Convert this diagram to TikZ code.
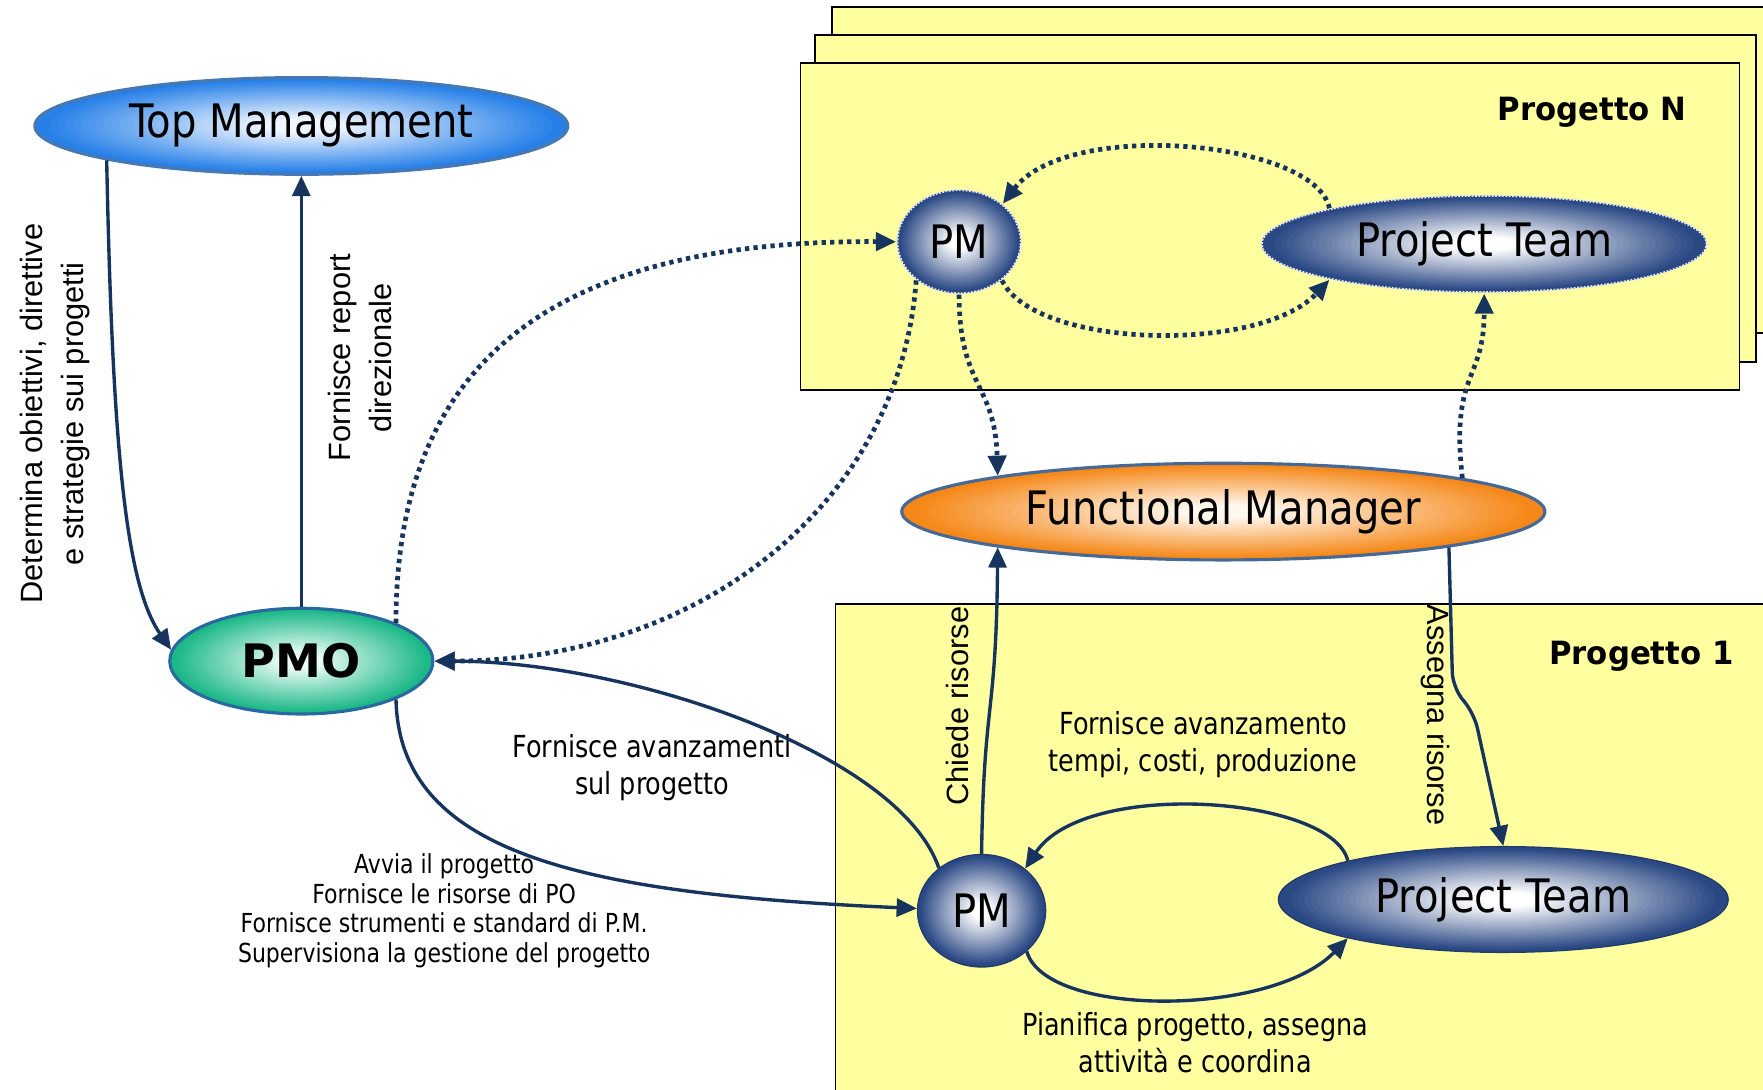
\documentclass[tikz,border=0pt]{standalone}
\usepackage{fontspec}
\usetikzlibrary{shapes.geometric,arrows.meta}
\setmainfont{DejaVu Sans}
\newfontfamily\nodeface[FakeStretch=0.87]{DejaVu Sans}
\newfontfamily\labelface[FakeStretch=0.84]{DejaVu Sans}
\newfontfamily\boldface{DejaVu Sans}
\newfontfamily\headface[FakeStretch=0.96]{DejaVu Sans}
\newfontfamily\sideface{Liberation Sans}

\definecolor{navy}{RGB}{22,52,94}
\definecolor{paper}{RGB}{255,255,160}
\definecolor{tmin}{RGB}{240,246,255}
\definecolor{tmout}{RGB}{38,128,232}
\definecolor{tmedge}{RGB}{70,120,180}
\definecolor{pmoin}{RGB}{235,252,246}
\definecolor{pmoout}{RGB}{28,184,136}
\definecolor{pmoedge}{RGB}{40,105,160}
\definecolor{fmin}{RGB}{255,246,236}
\definecolor{fmout}{RGB}{245,136,24}
\definecolor{fmedge}{RGB}{70,105,150}
\definecolor{pmin}{RGB}{255,255,255}
\definecolor{pmout}{RGB}{42,72,132}

% elliptical glow: stacked ellipses from rim colour (#2) to centre colour (#1),
% #3 and #4 are the x and y radii
\tikzset{
  glow/.style n args={4}{path picture={
    \foreach \gk in {0,...,34}{
      \pgfmathsetmacro\gr{1-\gk/35}
      \pgfmathsetmacro\gp{max(0,min(100,(0.97-\gr)/0.82*100))}
      \fill[#1!\gp!#2] (path picture bounding box.center)
        ellipse [x radius=\gr*#3, y radius=\gr*#4];
    }}}
}

\tikzset{
  projbox/.style={draw=black, line width=1.6pt, fill=paper},
  blob/.style={ellipse, inner sep=0pt, font=\nodeface\fontsize{41}{44}\selectfont},
  topbox/.style={blob, glow={tmin}{tmout}{237}{43}, draw=tmedge, line width=2.8pt},
  pmobox/.style={blob, glow={pmoin}{pmoout}{117}{47}, draw=pmoedge, line width=2.8pt,
                 font=\boldface\bfseries\fontsize{41}{44}\selectfont},
  fmbox/.style={blob, glow={fmin}{fmout}{286}{43}, draw=fmedge, line width=2.8pt},
  teambox/.style={blob, draw=pmout!80!black, line width=1.2pt},
  teamboxdot/.style={blob, draw=white!85!pmout, line width=2pt,
                     dash pattern=on 1.6pt off 1.4pt},
  flow/.style={draw=navy, line width=3pt, -{Triangle[length=18pt,width=16pt]}},
  dots/.style={draw=navy, line width=4.2pt, dash pattern=on 3.8pt off 3.8pt,
               -{Triangle[length=18pt,width=16pt]}},
  sidelbl/.style={font=\sideface\fontsize{27.4}{37}\selectfont, align=center, inner sep=0pt},
  midlbl/.style={font=\labelface\fontsize{27}{33}\selectfont, align=center, inner sep=0pt},
  smalllbl/.style={font=\labelface\fontsize{23.3}{26.6}\selectfont, align=center, inner sep=0pt},
  headlbl/.style={font=\headface\bfseries\fontsize{28.5}{30}\selectfont, inner sep=0pt, anchor=east}
}

\begin{document}
\begin{tikzpicture}[x=1pt, y=-1pt]
  \useasboundingbox (0,0) rectangle (1568,969);
  \fill[white] (0,0) rectangle (1568,969);

  % stacked project sheets (Progetto N) and Progetto 1
  \draw[projbox] (740,6) rectangle (1590,296);
  \draw[projbox] (725,31) rectangle (1562,322);
  \draw[projbox] (712,56) rectangle (1547,347);
  \draw[projbox] (743,537) rectangle (1590,990);

  \node[headlbl] (hdN) at (1500,100) {Progetto N};
  \node[headlbl] (hd1) at (1542,584) {Progetto 1};

  % actors
  \node[topbox, minimum width=474pt, minimum height=86pt] (tm) at (268,112) {Top Management};
  \node[pmobox, minimum width=234pt, minimum height=94pt] (pmo) at (268,588) {PMO};
  \node[teamboxdot, glow={pmin}{pmout}{55}{46}, minimum width=110pt, minimum height=92pt] (pmN) at (853,215) {PM};
  \node[teamboxdot, glow={pmin}{pmout}{198}{43}, minimum width=396pt, minimum height=86pt] (ptN) at (1320,217) {Project Team};
  \node[fmbox, minimum width=572pt, minimum height=86pt] (fm) at (1088,455) {Functional Manager};
  \node[teambox, glow={pmin}{pmout}{57}{50}, minimum width=114pt, minimum height=100pt] (pm1) at (873,810) {PM};
  \node[teambox, glow={pmin}{pmout}{200}{47}, minimum width=400pt, minimum height=94pt] (pt1) at (1337,800) {Project Team};

  % Top Management <-> PMO
  \draw[flow] (tm.190) .. controls (100,400) and (112,520) .. (pmo.175);
  \draw[flow] (pmo.north) -- (tm.south);
  \node[sidelbl, rotate=90] (lblDet) at (49,368) {Determina obiettivi, direttive\\e strategie sui progetti};
  \node[sidelbl, rotate=90] (lblRep) at (320,318) {Fornisce report\\direzionale};

  % PMO <-> PM of Progetto N (dotted)
  \draw[dots] (pmo.22) .. controls (352,340) and (470,213) .. (pmN.west);
  \draw[dots] (pmN.222) .. controls (800,450) and (620,588) .. (pmo.east);

  % Progetto N internal loop
  \draw[dots] (ptN.167) .. controls (1170,125) and (950,105) .. (pmN.41);
  \draw[dots] (pmN.318) .. controls (920,310) and (1120,315) .. (ptN.193);

  % Progetto N <-> Functional Manager
  \draw[dots] (pmN.south) .. controls (853,345) and (885,340) .. (fm.171.5);
  \draw[dots] (fm.8.5) .. controls (1290,330) and (1320,340) .. (ptN.south);

  % PMO <-> PM of Progetto 1
  \draw[flow] (pmo.338) .. controls (355,760) and (520,795) .. (pm1.178);
  \draw[flow] (pm1.135) .. controls (800,670) and (560,588) .. (pmo.east);
  \node[midlbl] (lblAv) at (580,683) {Fornisce avanzamenti\\sul progetto};
  \node[smalllbl] (lblAvvia) at (395,810) {Avvia il progetto\\Fornisce le risorse di PO\\Fornisce strumenti e standard di P.M.\\Supervisiona la gestione del progetto};

  % Progetto 1 <-> Functional Manager
  \draw[flow] (pm1.north) .. controls (875,620) and (886,640) .. (fm.189);
  \draw[flow, rounded corners=14pt] (fm.351.5) -- (1292,612) -- (1311,634) -- (pt1.north);
  \node[sidelbl, rotate=90] (lblChiede) at (852,628) {Chiede risorse};
  \node[sidelbl, rotate=-90] (lblAssegna) at (1277,636) {Assegna risorse};

  % Progetto 1 internal loop
  \draw[flow] (pt1.166) .. controls (1185,708) and (965,692) .. (pm1.44);
  \draw[flow] (pm1.318) .. controls (930,905) and (1130,905) .. (pt1.194);
  \node[midlbl] (lblTempi) at (1070,662) {Fornisce avanzamento\\tempi, costi, produzione};
  \node[midlbl] (lblPian) at (1063,927) {Pianifica progetto, assegna\\attività e coordina};
\end{tikzpicture}
\end{document}
